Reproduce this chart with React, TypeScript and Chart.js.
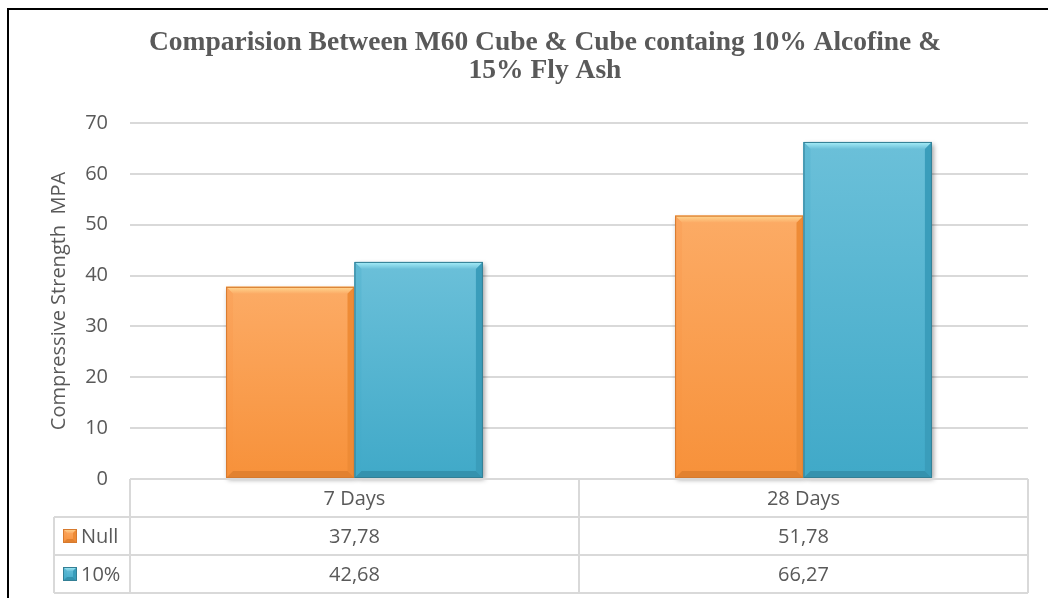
import React, { useEffect, useRef } from 'react';
import { Chart, registerables } from 'chart.js';

Chart.register(...registerables);

// ---------------- data ----------------
const categories: string[] = ['7 Days', '28 Days'];
const seriesNames: string[] = ['Null', '10%'];
const nullValues: number[] = [37.78, 51.78];
const tenPercentValues: number[] = [42.68, 66.27];
const yMin = 0;
const yMax = 70;
const yStep = 10;
const titleLines: string[] = [
  'Comparision Between M60 Cube & Cube containg 10% Alcofine &',
  '15% Fly Ash',
];
const yAxisTitle = 'Compressive Strength  MPA';

// ---------------- styles ----------------
const TEXT = '#595959';
const GRID = '#D9D9D9';
const SANS = '"Open Sans", "DejaVu Sans", sans-serif';
const SERIF = '"Liberation Serif", "Times New Roman", serif';

type Pal = { top: string; bottom: string; light: string; left: string; right: string; dark: string; edge: string };
const palettes: Pal[] = [
  { top: '#FCAB65', bottom: '#F7913A', light: '#FFD892', left: '#FBA55E', right: '#EE8B36', dark: '#E2812F', edge: '#D67A2E' },
  { top: '#6BC0D9', bottom: '#40A9C8', light: '#A9EFF9', left: '#60BAD4', right: '#3A9DBB', dark: '#3592AE', edge: '#337F95' },
];

function fmt(v: number): string {
  return v.toFixed(2).replace('.', ',');
}

function poly(ctx: CanvasRenderingContext2D, pts: number[][], fill: string | CanvasGradient) {
  ctx.beginPath();
  ctx.moveTo(pts[0][0], pts[0][1]);
  for (let i = 1; i < pts.length; i++) ctx.lineTo(pts[i][0], pts[i][1]);
  ctx.closePath();
  ctx.fillStyle = fill;
  ctx.fill();
}

function bevelRect(ctx: CanvasRenderingContext2D, l: number, t: number, r: number, b: number, bv: number, pal: Pal) {
  const g = ctx.createLinearGradient(0, t, 0, b);
  g.addColorStop(0, pal.top);
  g.addColorStop(1, pal.bottom);
  ctx.fillStyle = g;
  ctx.fillRect(l, t, r - l, b - t);
  const tg = ctx.createLinearGradient(0, t, 0, t + bv);
  tg.addColorStop(0, pal.light);
  tg.addColorStop(1, pal.top);
  poly(ctx, [[l, t], [r, t], [r - bv, t + bv], [l + bv, t + bv]], tg);
  const lg = ctx.createLinearGradient(0, t, 0, b);
  lg.addColorStop(0, pal.left);
  lg.addColorStop(1, pal.bottom);
  poly(ctx, [[l, t], [l + bv, t + bv], [l + bv, b - bv], [l, b]], lg);
  poly(ctx, [[r, t], [r - bv, t + bv], [r - bv, b - bv], [r, b]], pal.right);
  poly(ctx, [[l, b], [r, b], [r - bv, b - bv], [l + bv, b - bv]], pal.dark);
  ctx.strokeStyle = pal.edge;
  ctx.lineWidth = 1;
  ctx.strokeRect(l + 0.5, t + 0.5, r - l - 1, b - t - 1);
}

const bevelPlugin = {
  id: 'bevelBars',
  beforeDatasetsDraw(chart: any) {
    const ctx = chart.ctx as CanvasRenderingContext2D;
    ctx.save();
    ctx.shadowColor = 'rgba(0,0,0,0.4)';
    ctx.shadowBlur = 5;
    ctx.shadowOffsetX = 2;
    ctx.shadowOffsetY = 2;
    chart.data.datasets.forEach((_ds: any, di: number) => {
      chart.getDatasetMeta(di).data.forEach((el: any) => {
        const { x, y, base, width } = el.getProps(['x', 'y', 'base', 'width'], true);
        ctx.fillStyle = palettes[di].bottom;
        ctx.fillRect(x - width / 2, Math.min(y, base), width, Math.abs(base - y));
      });
    });
    ctx.restore();
  },
  afterDatasetsDraw(chart: any) {
    const ctx = chart.ctx as CanvasRenderingContext2D;
    ctx.save();
    chart.data.datasets.forEach((_ds: any, di: number) => {
      chart.getDatasetMeta(di).data.forEach((el: any) => {
        const { x, y, base, width } = el.getProps(['x', 'y', 'base', 'width'], true);
        const l = x - width / 2;
        const r = x + width / 2;
        bevelRect(ctx, l, Math.min(y, base), r, Math.max(y, base), 7, palettes[di]);
      });
    });
    ctx.restore();
  },
};

const titlePlugin = {
  id: 'customTitle',
  afterDraw(chart: any) {
    const ctx = chart.ctx as CanvasRenderingContext2D;
    ctx.save();
    ctx.fillStyle = TEXT;
    ctx.font = `bold 27.5px ${SERIF}`;
    ctx.textAlign = 'center';
    ctx.textBaseline = 'middle';
    titleLines.forEach((line, i) => ctx.fillText(line, 545, 43 + i * 28));
    ctx.restore();
  },
};

const tablePlugin = {
  id: 'dataTable',
  afterDraw(chart: any) {
    const ctx = chart.ctx as CanvasRenderingContext2D;
    const area = chart.chartArea;
    const xs = chart.scales.x;
    const rowH = 38;
    const legendLeft = 54;
    const top = area.bottom;
    const n = categories.length;
    const half = (xs.getPixelForValue(1) - xs.getPixelForValue(0)) / 2;
    ctx.save();
    ctx.strokeStyle = GRID;
    ctx.lineWidth = 2;
    ctx.beginPath();
    ctx.moveTo(area.left, top);
    ctx.lineTo(area.right, top);
    for (let r = 1; r <= seriesNames.length + 1; r++) {
      ctx.moveTo(legendLeft, top + r * rowH);
      ctx.lineTo(area.right, top + r * rowH);
    }
    ctx.moveTo(legendLeft, top + rowH);
    ctx.lineTo(legendLeft, top + (seriesNames.length + 1) * rowH);
    for (let i = 0; i <= n; i++) {
      const x = i < n ? xs.getPixelForValue(i) - half : xs.getPixelForValue(n - 1) + half;
      ctx.moveTo(x, top);
      ctx.lineTo(x, top + (seriesNames.length + 1) * rowH);
    }
    ctx.stroke();

    ctx.fillStyle = TEXT;
    ctx.font = `20px ${SANS}`;
    ctx.textBaseline = 'middle';
    ctx.textAlign = 'center';
    categories.forEach((c, i) => ctx.fillText(c, xs.getPixelForValue(i), top + rowH / 2 + 1));
    const series = [nullValues, tenPercentValues];
    series.forEach((vals, si) => {
      const cy = top + rowH * (si + 1) + rowH / 2 + 1;
      vals.forEach((v, i) => {
        ctx.fillStyle = TEXT;
        ctx.textAlign = 'center';
        ctx.fillText(fmt(v), xs.getPixelForValue(i), cy);
      });
      bevelRect(ctx, 63, cy - 8, 77, cy + 6, 4, palettes[si]);
      ctx.fillStyle = TEXT;
      ctx.textAlign = 'left';
      ctx.fillText(seriesNames[si], 81, cy);
    });
    ctx.restore();
  },
};

export default function App() {
  const ref = useRef<HTMLCanvasElement | null>(null);
  useEffect(() => {
    if (!ref.current) return;
    const chart = new Chart(ref.current, {
      type: 'bar',
      data: {
        labels: categories,
        datasets: [
          { label: seriesNames[0], data: nullValues, backgroundColor: palettes[0].bottom, borderWidth: 0 },
          { label: seriesNames[1], data: tenPercentValues, backgroundColor: palettes[1].bottom, borderWidth: 0 },
        ],
      },
      options: {
        animation: false,
        responsive: false,
        devicePixelRatio: 1,
        layout: { padding: { left: 0, right: 20, top: 123, bottom: 119 } },
        datasets: { bar: { categoryPercentage: 0.572, barPercentage: 1 } },
        plugins: { legend: { display: false }, title: { display: false }, tooltip: { enabled: false } },
        scales: {
          x: { display: false },
          y: {
            min: yMin,
            max: yMax,
            ticks: { stepSize: yStep, color: TEXT, font: { family: SANS, size: 20 }, padding: 22 },
            grid: { color: GRID, lineWidth: 2, drawTicks: false },
            border: { display: false },
            title: {
              display: true,
              text: yAxisTitle,
              color: TEXT,
              font: { family: SANS, size: 20 },
              padding: { top: 47, bottom: 0 },
            },
            afterFit: (scale: any) => {
              scale.width = 130;
            },
          },
        },
      },
      plugins: [bevelPlugin, tablePlugin, titlePlugin],
    });
    return () => chart.destroy();
  }, []);
  return (
    <div style={{ position: 'absolute', left: 0, top: 0, width: 1048, height: 598, background: '#fff', overflow: 'hidden' }}>
      <canvas ref={ref} width={1048} height={598} style={{ position: 'absolute', left: 0, top: 0, width: 1048, height: 598 }} />
      <div style={{ position: 'absolute', left: 7, top: 8, width: 1100, height: 700, borderLeft: '2px solid #000', borderTop: '2px solid #000', boxSizing: 'border-box', pointerEvents: 'none' }} />
    </div>
  );
}
